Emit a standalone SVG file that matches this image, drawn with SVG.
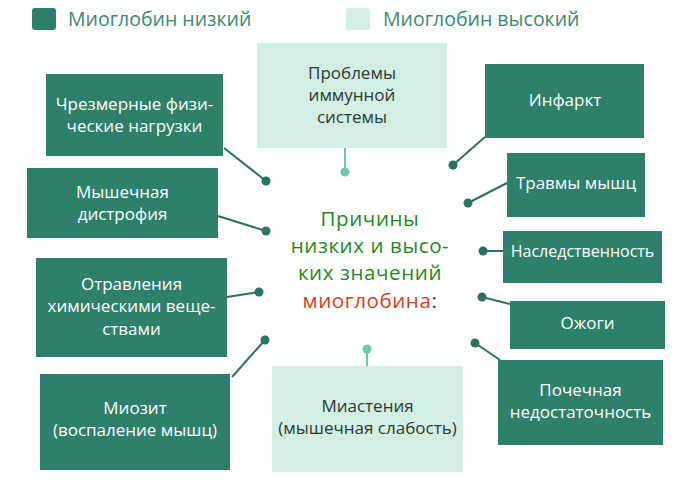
<svg xmlns="http://www.w3.org/2000/svg" width="692" height="483" viewBox="0 0 692 483">
<style>
.dk{fill:#2d8069}
.lt{fill:#d3eee3}
.bt{font-family:"Open Sans","Noto Sans",sans-serif;font-size:17px;text-anchor:middle}
.w{fill:#ffffff}
.d{fill:#2a3a35}
.lg{font-family:"Open Sans","Noto Sans",sans-serif;font-size:19.5px;fill:#3a8a74}
.ct{font-family:"Open Sans","Noto Sans",sans-serif;font-size:20.5px;text-anchor:middle;fill:#1e8a24;letter-spacing:0.6px}
.cn line{stroke:#2b7361;stroke-width:2}
.cn circle{fill:#2b7361}
.cn .l line{stroke:#6ccaa8}
.cn .l circle{fill:#6ccaa8}
</style>
<rect width="692" height="483" fill="#ffffff"/>
<g id="legend">
<rect x="32" y="8" width="24" height="22" rx="3" class="dk"/>
<text x="68" y="26" class="lg">Миоглобин низкий</text>
<rect x="346" y="8" width="24" height="22" rx="3" class="lt"/>
<text x="383" y="26" class="lg">Миоглобин высокий</text>
</g>
<g id="connectors" class="cn">
<line x1="224" y1="148" x2="266" y2="181"/><circle cx="266" cy="181" r="4.5"/>
<line x1="218" y1="216" x2="266" y2="231"/><circle cx="266" cy="231" r="4.5"/>
<line x1="227" y1="297" x2="259" y2="292"/><circle cx="259" cy="292" r="4.5"/>
<line x1="232" y1="377" x2="265" y2="340"/><circle cx="265" cy="340" r="4.5"/>
<line x1="485" y1="137" x2="453" y2="165"/><circle cx="453" cy="165" r="4.5"/>
<line x1="507" y1="183" x2="468" y2="203"/><circle cx="468" cy="203" r="4.5"/>
<line x1="503" y1="251" x2="483" y2="251"/><circle cx="483" cy="251" r="4.5"/>
<line x1="510" y1="304" x2="482" y2="297"/><circle cx="482" cy="297" r="4.5"/>
<line x1="500" y1="360" x2="475" y2="343"/><circle cx="475" cy="343" r="4.5"/>
<g class="l">
<line x1="345" y1="148" x2="345" y2="172"/><circle cx="345" cy="172" r="4.5"/>
<line x1="367" y1="366" x2="367" y2="349"/><circle cx="367" cy="349" r="4.5"/>
</g>
</g>
<g id="n-overload">
<rect x="46" y="74" width="177" height="82" class="dk"/>
<text class="bt w"><tspan x="134.5" y="110">Чрезмерные физи-</tspan><tspan x="134.5" y="132">ческие нагрузки</tspan></text>
</g>
<g id="n-immune">
<rect x="257" y="43" width="190" height="105" class="lt"/>
<text class="bt d"><tspan x="352" y="79">Проблемы</tspan><tspan x="352" y="101">иммунной</tspan><tspan x="352" y="123">системы</tspan></text>
</g>
<g id="n-infarct">
<rect x="485" y="64" width="159" height="74" class="dk"/>
<text x="565" y="106" class="bt w">Инфаркт</text>
</g>
<g id="n-dystrophy">
<rect x="27" y="168" width="191" height="70" class="dk"/>
<text class="bt w"><tspan x="122.5" y="198">Мышечная</tspan><tspan x="122.5" y="220">дистрофия</tspan></text>
</g>
<g id="n-trauma">
<rect x="507" y="153" width="138" height="64" class="dk"/>
<text x="576" y="189" class="bt w">Травмы мышц</text>
</g>
<g id="n-heredity">
<rect x="503" y="231" width="159" height="52" class="dk"/>
<text x="582.5" y="257" class="bt w" style="font-size:16px">Наследственность</text>
</g>
<g id="n-poison">
<rect x="36" y="258" width="191" height="99" class="dk"/>
<text class="bt w"><tspan x="131.5" y="290">Отравления</tspan><tspan x="131.5" y="312">химическими веще-</tspan><tspan x="131.5" y="335">ствами</tspan></text>
</g>
<g id="n-burns">
<rect x="510" y="301" width="155" height="48" class="dk"/>
<text x="587.5" y="329" class="bt w">Ожоги</text>
</g>
<g id="n-myositis">
<rect x="40" y="374" width="190" height="96" class="dk"/>
<text class="bt w"><tspan x="135" y="414">Миозит</tspan><tspan x="135" y="436">(воспаление мышц)</tspan></text>
</g>
<g id="n-myasthenia">
<rect x="272" y="366" width="191" height="106" class="lt"/>
<text class="bt d"><tspan x="367.5" y="412">Миастения</tspan><tspan x="367.5" y="434">(мышечная слабость)</tspan></text>
</g>
<g id="n-renal">
<rect x="498" y="360" width="165" height="85" class="dk"/>
<text class="bt w"><tspan x="580.5" y="396">Почечная</tspan><tspan x="580.5" y="418">недостаточность</tspan></text>
</g>
<g id="center">
<text class="ct"><tspan x="370" y="226">Причины</tspan><tspan x="370" y="253">низких и высо-</tspan><tspan x="370" y="280">ких значений</tspan><tspan x="370" y="308"><tspan fill="#d8401e">миоглобина</tspan><tspan fill="#2a3a35">:</tspan></tspan></text>
</g>
</svg>
